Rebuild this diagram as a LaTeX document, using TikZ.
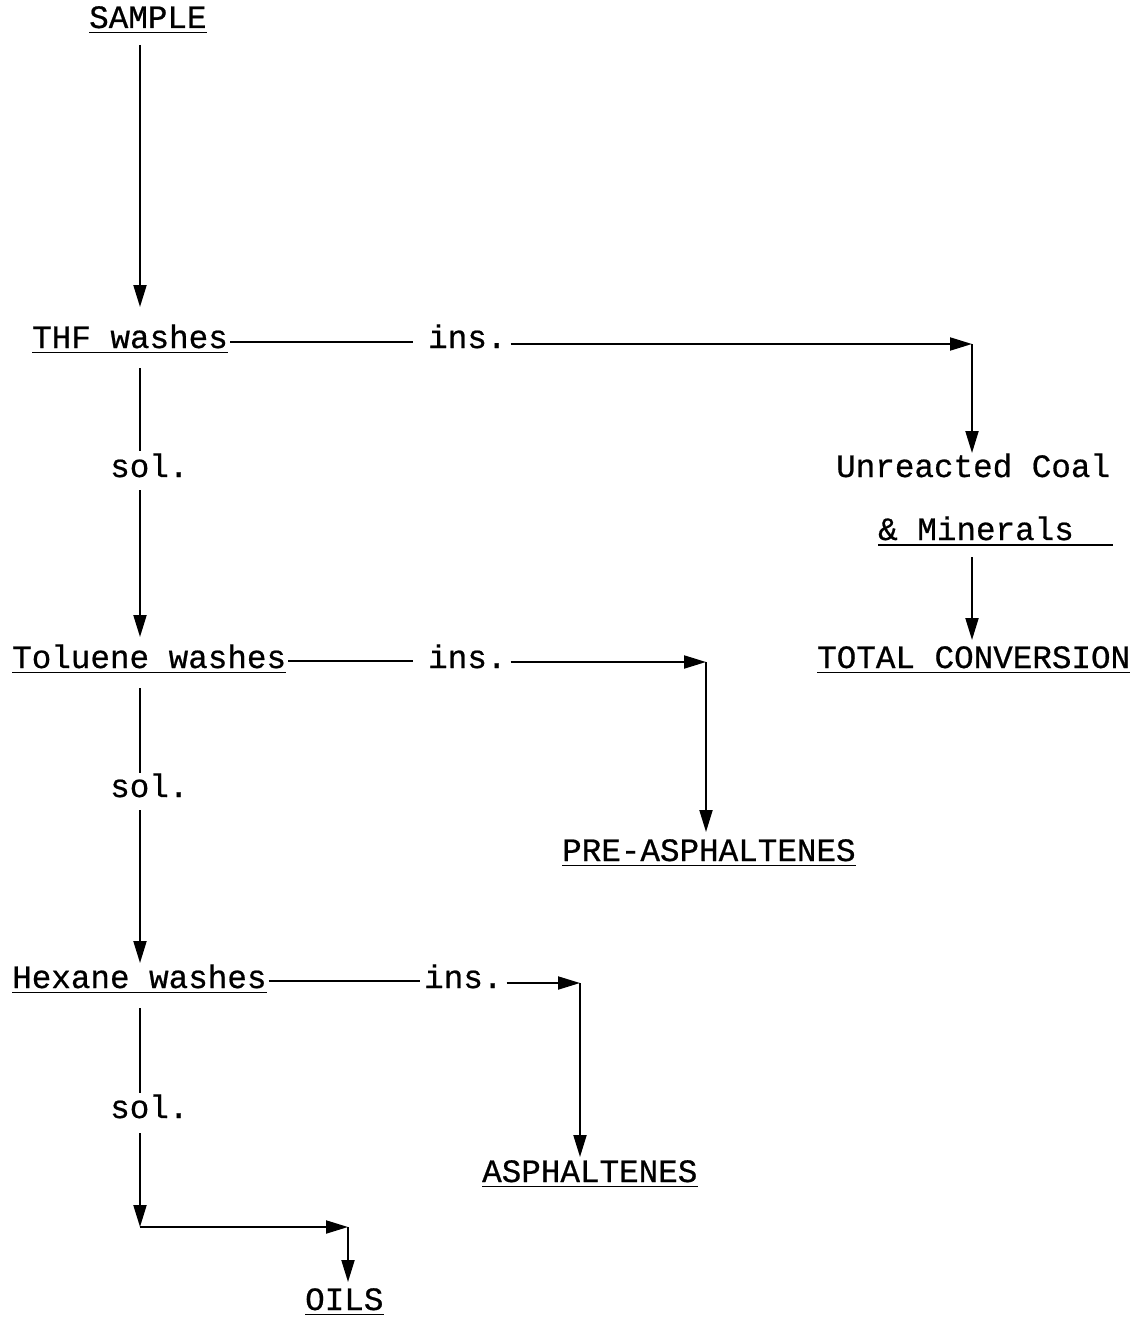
\documentclass[tikz,border=0pt]{standalone}
\usepackage{fontspec}
\setmonofont[FakeBold=0.6]{Liberation Mono}
\usetikzlibrary{arrows.meta}
\begin{document}
\begin{tikzpicture}[x=1pt,y=-1pt,
  txt/.style={font=\ttfamily\fontsize{32.6}{36}\selectfont, inner sep=0pt, anchor=base west},
  ln/.style={line width=2pt},
  arr/.style={line width=2pt, -{Triangle[length=22pt,width=13pt]}},
  ul/.style={line width=1.8pt}]
\useasboundingbox[fill=white] (0,0) rectangle (1141,1319);

% text nodes
\node[txt] (sample) at (89,28) {SAMPLE};
\node[txt] (thf) at (32,348) {THF washes};
\node[txt] (ins1) at (428,348) {ins.};
\node[txt] (unr) at (836,477) {Unreacted Coal};
\node[txt] (min) at (878,540) {\& Minerals};
\node[txt] (total) at (817,668) {TOTAL CONVERSION};
\node[txt] (sol1) at (110,477) {sol.};
\node[txt] (tol) at (12,668) {Toluene washes};
\node[txt] (ins2) at (428,668) {ins.};
\node[txt] (pre) at (562,861) {PRE-ASPHALTENES};
\node[txt] (sol2) at (110,797) {sol.};
\node[txt] (hex) at (12,988) {Hexane washes};
\node[txt] (ins3) at (424,988) {ins.};
\node[txt] (asph) at (482,1182) {ASPHALTENES};
\node[txt] (sol3) at (110,1118) {sol.};
\node[txt] (oils) at (305,1310) {OILS};

% underlines
\foreach \n in {sample,thf,total,tol,pre,hex,asph,oils}
  \draw[ul] ([yshift=-4.5pt]\n.base west) -- ([yshift=-4.5pt]\n.base east);
\draw[ul] ([yshift=-5pt]min.base west) -- ([yshift=-5pt,xshift=39pt]min.base east);

% named points of the connectors
\coordinate (s0) at (140,45);  \coordinate (t0) at (140,307);
\coordinate (t1) at (140,368); \coordinate (p1) at (140,451);
\coordinate (p2) at (140,490); \coordinate (l0) at (140,637);
\coordinate (l1) at (140,688); \coordinate (p3) at (140,773);
\coordinate (p4) at (140,810); \coordinate (h0) at (140,963);
\coordinate (h1) at (140,1008);\coordinate (p5) at (140,1093);
\coordinate (p6) at (140,1133);\coordinate (c4) at (140,1227);
\coordinate (c5) at (348,1227);\coordinate (o0) at (348,1282);
\coordinate (c1) at (972,344); \coordinate (u0) at (972,453);
\coordinate (m1) at (972,557); \coordinate (v0) at (972,640);
\coordinate (c2) at (706,662); \coordinate (r0) at (706,832);
\coordinate (c3) at (580,983); \coordinate (a0) at (580,1157);

% main column
\draw[arr] (s0) -- (t0);
\draw[ln] (t1) -- (p1);
\draw[arr] (p2) -- (l0);
\draw[ln] (l1) -- (p3);
\draw[arr] (p4) -- (h0);
\draw[ln] (h1) -- (p5);
\draw[arr] (p6) -- (c4);
\draw[arr] (c4) -- (c5);
\draw[arr] (c5) -- (o0);

% THF branch
\draw[ln] ([xshift=2pt,yshift=6pt]thf.base east) -- ([xshift=-15pt,yshift=6pt]ins1.base west);
\draw[arr] ([xshift=4pt,yshift=4pt]ins1.base east) -- (c1);
\draw[arr] (c1) -- (u0);
\draw[arr] (m1) -- (v0);

% Toluene branch
\draw[ln] ([xshift=2pt,yshift=7pt]tol.base east) -- ([xshift=-15pt,yshift=7pt]ins2.base west);
\draw[arr] ([xshift=4pt,yshift=6pt]ins2.base east) -- (c2);
\draw[arr] (c2) -- (r0);

% Hexane branch
\draw[ln] ([xshift=2pt,yshift=7pt]hex.base east) -- ([xshift=-4pt,yshift=7pt]ins3.base west);
\draw[arr] ([xshift=4pt,yshift=5pt]ins3.base east) -- (c3);
\draw[arr] (c3) -- (a0);
\end{tikzpicture}
\end{document}
